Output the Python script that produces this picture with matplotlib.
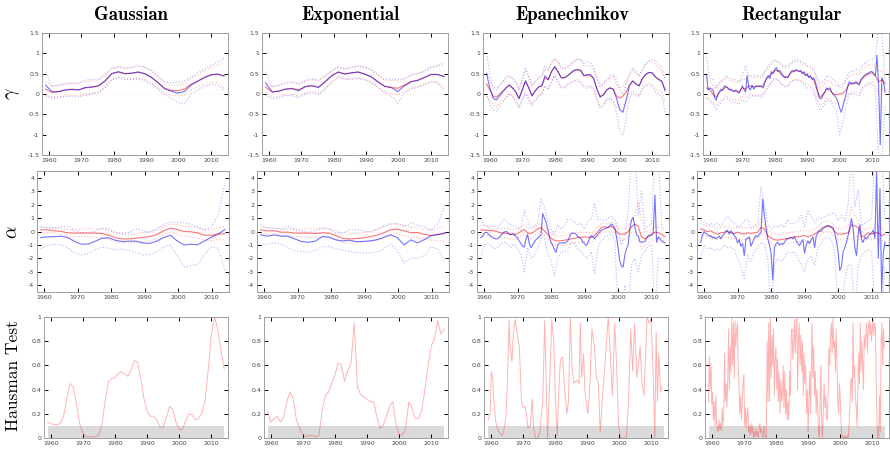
import numpy as np
import matplotlib.pyplot as plt

plt.rcParams['axes.unicode_minus'] = False
plt.rcParams['mathtext.fontset'] = 'cm'

kernels = ['Gaussian', 'Exponential', 'Epanechnikov', 'Rectangular']

# ---------------- gamma, Gaussian kernel (about every two years, 1959-2014)
g_gam_red = [0.12, 0.04, 0.06, 0.10, 0.12, 0.10, 0.15, 0.17, 0.20, 0.32, 0.50, 0.54, 0.50, 0.51,
             0.54, 0.50, 0.41, 0.28, 0.14, 0.09, 0.08, 0.12, 0.24, 0.32, 0.41, 0.47, 0.49, 0.45]
g_gam_blue = [0.22, 0.05, 0.06, 0.10, 0.11, 0.10, 0.16, 0.17, 0.20, 0.32, 0.50, 0.55, 0.50, 0.51,
              0.54, 0.50, 0.41, 0.28, 0.13, 0.07, 0.02, 0.06, 0.22, 0.31, 0.40, 0.47, 0.49, 0.44]
g_gam_red_hi = [0.30, 0.18, 0.20, 0.24, 0.26, 0.25, 0.30, 0.32, 0.34, 0.45, 0.62, 0.66, 0.62, 0.64,
                0.68, 0.65, 0.56, 0.42, 0.28, 0.22, 0.22, 0.26, 0.38, 0.47, 0.57, 0.65, 0.71, 0.78]
g_gam_red_lo = [-0.02, -0.08, -0.07, -0.04, -0.03, -0.05, 0.00, 0.02, 0.05, 0.18, 0.36, 0.42, 0.38, 0.37,
                0.40, 0.36, 0.27, 0.15, 0.02, -0.03, -0.05, -0.02, 0.10, 0.17, 0.24, 0.29, 0.28, 0.14]
g_gam_blue_hi = [0.55, 0.20, 0.22, 0.26, 0.27, 0.28, 0.34, 0.36, 0.37, 0.48, 0.64, 0.67, 0.64, 0.66,
                 0.71, 0.67, 0.58, 0.43, 0.30, 0.28, 0.29, 0.32, 0.42, 0.52, 0.62, 0.70, 0.78, 0.88]
g_gam_blue_lo = [-0.05, -0.10, -0.09, -0.06, -0.06, -0.08, -0.03, 0.00, 0.03, 0.15, 0.34, 0.40, 0.36, 0.35,
                 0.37, 0.33, 0.24, 0.12, -0.02, -0.10, -0.22, -0.25, 0.00, 0.10, 0.18, 0.24, 0.22, 0.08]

# ---------------- gamma, Exponential kernel
e_gam_red = [0.17, 0.05, 0.07, 0.12, 0.14, 0.10, 0.18, 0.21, 0.17, 0.30, 0.45, 0.54, 0.49, 0.52,
             0.54, 0.49, 0.42, 0.30, 0.19, 0.16, 0.14, 0.22, 0.31, 0.34, 0.41, 0.48, 0.48, 0.43]
e_gam_blue = [0.27, 0.05, 0.07, 0.12, 0.13, 0.08, 0.18, 0.20, 0.16, 0.30, 0.45, 0.54, 0.49, 0.52,
              0.54, 0.49, 0.42, 0.30, 0.19, 0.16, 0.06, 0.20, 0.30, 0.33, 0.40, 0.48, 0.48, 0.43]
e_gam_red_hi = [0.30, 0.17, 0.20, 0.26, 0.28, 0.24, 0.31, 0.36, 0.32, 0.43, 0.56, 0.66, 0.61, 0.64,
                0.68, 0.65, 0.58, 0.46, 0.34, 0.33, 0.32, 0.37, 0.46, 0.50, 0.56, 0.65, 0.68, 0.72]
e_gam_red_lo = [0.04, -0.08, -0.06, -0.02, -0.01, -0.06, 0.03, 0.06, 0.02, 0.14, 0.30, 0.42, 0.37, 0.38,
                0.40, 0.36, 0.30, 0.18, 0.06, 0.01, -0.02, 0.06, 0.15, 0.18, 0.25, 0.31, 0.30, 0.15]
e_gam_blue_hi = [0.55, 0.18, 0.22, 0.28, 0.30, 0.25, 0.33, 0.38, 0.34, 0.45, 0.58, 0.67, 0.62, 0.66,
                 0.70, 0.67, 0.60, 0.48, 0.36, 0.37, 0.36, 0.38, 0.48, 0.51, 0.55, 0.66, 0.70, 0.76]
e_gam_blue_lo = [-0.03, -0.12, -0.10, -0.04, -0.04, -0.10, 0.00, 0.03, -0.02, 0.12, 0.28, 0.42, 0.36, 0.36,
                 0.38, 0.34, 0.28, 0.16, 0.03, -0.04, -0.22, 0.02, 0.13, 0.16, 0.22, 0.30, 0.27, 0.10]

# ---------------- gamma, Epanechnikov kernel (annual)
ep_gam_red = [0.25,
              0.10, -0.05, -0.08, 0.00, 0.08, 0.15, 0.22, 0.15, 0.05, -0.10,
              0.10, 0.30, 0.15, -0.03, 0.08, 0.17, 0.20, 0.40, 0.35, 0.55,
              0.66, 0.55, 0.40, 0.40, 0.45, 0.52, 0.58, 0.60, 0.58, 0.45,
              0.45, 0.45, 0.38, 0.12, -0.06, -0.02, 0.10, 0.15, 0.12, -0.05,
              -0.10, -0.05, 0.05, 0.22, 0.32, 0.25, 0.20, 0.38, 0.48, 0.53,
              0.52, 0.42, 0.36, 0.30, 0.10]
ep_gam_blue = [0.50,
               0.15, -0.10, -0.15, -0.05, 0.05, 0.15, 0.22, 0.15, 0.05, -0.12,
               0.10, 0.33, 0.15, -0.05, 0.08, 0.17, 0.20, 0.45, 0.35, 0.55,
               0.68, 0.55, 0.40, 0.40, 0.45, 0.52, 0.58, 0.60, 0.58, 0.45,
               0.48, 0.48, 0.38, 0.12, -0.08, -0.02, 0.10, 0.15, 0.12, -0.10,
               -0.38, -0.45, -0.15, 0.20, 0.32, 0.25, 0.20, 0.38, 0.48, 0.53,
               0.52, 0.42, 0.36, 0.32, 0.08]
ep_gam_red_hi = [0.55,
                 0.35, 0.18, 0.15, 0.22, 0.30, 0.38, 0.42, 0.38, 0.28, 0.12,
                 0.35, 0.58, 0.40, 0.20, 0.30, 0.38, 0.42, 0.62, 0.58, 0.75,
                 0.85, 0.78, 0.62, 0.62, 0.68, 0.75, 0.82, 0.85, 0.82, 0.70,
                 0.70, 0.70, 0.60, 0.38, 0.18, 0.22, 0.32, 0.40, 0.42, 0.22,
                 0.15, 0.20, 0.28, 0.45, 0.58, 0.50, 0.45, 0.60, 0.72, 0.80,
                 0.80, 0.72, 0.65, 0.55, 0.40]
ep_gam_red_lo = [-0.05,
                 -0.15, -0.28, -0.32, -0.22, -0.14, -0.08, 0.02, -0.05, -0.15, -0.32,
                 -0.12, 0.05, -0.10, -0.25, -0.14, -0.04, 0.00, 0.18, 0.12, 0.32,
                 0.45, 0.32, 0.18, 0.18, 0.22, 0.28, 0.34, 0.35, 0.34, 0.20,
                 0.20, 0.20, 0.15, -0.12, -0.30, -0.25, -0.12, -0.10, -0.18, -0.32,
                 -0.35, -0.30, -0.18, 0.00, 0.08, 0.02, -0.05, 0.15, 0.24, 0.26,
                 0.24, 0.12, 0.08, 0.05, -0.20]
ep_gam_blue_hi = [1.00,
                  0.50, 0.15, 0.10, 0.20, 0.30, 0.42, 0.45, 0.40, 0.30, 0.10,
                  0.40, 0.65, 0.45, 0.22, 0.30, 0.40, 0.45, 0.70, 0.60, 0.78,
                  0.88, 0.80, 0.65, 0.62, 0.65, 0.72, 0.80, 0.85, 0.85, 0.75,
                  0.80, 0.78, 0.65, 0.40, 0.20, 0.25, 0.35, 0.45, 0.48, 0.35,
                  0.10, 0.00, 0.25, 0.50, 0.65, 0.55, 0.45, 0.60, 0.75, 0.82,
                  0.85, 0.82, 0.75, 0.65, 0.35]
ep_gam_blue_lo = [0.00,
                  -0.25, -0.40, -0.42, -0.30, -0.20, -0.10, 0.00, -0.05, -0.18, -0.35,
                  -0.15, 0.00, -0.15, -0.30, -0.15, -0.05, 0.00, 0.20, 0.10, 0.30,
                  0.45, 0.30, 0.15, 0.15, 0.22, 0.28, 0.32, 0.32, 0.28, 0.15,
                  0.15, 0.18, 0.10, -0.15, -0.35, -0.30, -0.15, -0.12, -0.20, -0.45,
                  -0.90, -1.02, -0.60, -0.10, 0.02, -0.05, -0.05, 0.12, 0.20, 0.22,
                  0.20, 0.05, 0.00, -0.05, -0.45]

# ---------------- gamma, Rectangular kernel (blue half-yearly, the rest annual)
r_gam_red = [0.15,
             0.10, 0.00, -0.08, 0.05, 0.10, 0.18, 0.12, 0.08, 0.08, 0.05,
             0.15, 0.12, 0.20, 0.18, 0.18, 0.20, 0.18, 0.30, 0.42, 0.50,
             0.58, 0.58, 0.48, 0.42, 0.42, 0.52, 0.57, 0.57, 0.55, 0.50,
             0.45, 0.42, 0.35, 0.10, -0.08, 0.00, 0.12, 0.10, 0.00, -0.02,
             0.00, 0.02, 0.10, 0.25, 0.25, 0.28, 0.25, 0.38, 0.45, 0.50,
             0.52, 0.45, 0.30, 0.35, 0.25]
r_gam_blue = [0.45, 0.10, 0.15, 0.12, 0.10, -0.10, -0.15, 0.00, 0.05, 0.12,
              0.10, 0.20, 0.18, 0.15, 0.10, 0.12, 0.08, 0.05, 0.10, 0.05,
              0.02, 0.10, 0.20, 0.12, 0.05, 0.45, 0.15, 0.10, 0.22, 0.12,
              0.18, 0.20, 0.18, 0.20, 0.18, 0.15, 0.30, 0.40, 0.45, 0.38,
              0.55, 0.50, 0.60, 0.65, 0.55, 0.58, 0.52, 0.45, 0.40, 0.42,
              0.40, 0.48, 0.55, 0.58, 0.55, 0.60, 0.58, 0.55, 0.58, 0.50,
              0.55, 0.45, 0.50, 0.40, 0.45, 0.35, 0.40, 0.30, 0.15, -0.05,
              -0.12, -0.10, 0.00, 0.05, 0.15, 0.12, 0.15, 0.05, 0.00, -0.05,
              -0.10, -0.20, -0.35, -0.45, -0.30, -0.15, 0.00, 0.20, 0.30, 0.25,
              0.28, 0.25, 0.30, 0.25, 0.22, 0.35, 0.40, 0.45, 0.48, 0.50,
              0.52, 0.55, 0.55, 0.50, 0.45, 0.95, 0.20, -1.25, 0.40, 0.30,
              0.05]
r_gam_red_hi = [0.40,
                0.32, 0.22, 0.14, 0.27, 0.32, 0.40, 0.34, 0.30, 0.30, 0.27,
                0.37, 0.36, 0.42, 0.40, 0.40, 0.42, 0.40, 0.52, 0.64, 0.72,
                0.80, 0.80, 0.70, 0.64, 0.64, 0.74, 0.79, 0.80, 0.77, 0.72,
                0.67, 0.64, 0.57, 0.32, 0.14, 0.22, 0.34, 0.32, 0.22, 0.20,
                0.22, 0.24, 0.32, 0.47, 0.47, 0.50, 0.47, 0.60, 0.67, 0.72,
                0.74, 0.67, 0.55, 0.57, 0.47]
r_gam_red_lo = [-0.08,
                -0.12, -0.22, -0.30, -0.17, -0.12, -0.04, -0.10, -0.14, -0.14, -0.17,
                -0.07, -0.10, -0.02, -0.04, -0.04, -0.02, -0.04, 0.08, 0.20, 0.28,
                0.36, 0.36, 0.26, 0.20, 0.20, 0.30, 0.35, 0.35, 0.33, 0.28,
                0.23, 0.20, 0.13, -0.12, -0.30, -0.22, -0.10, -0.12, -0.22, -0.24,
                -0.22, -0.20, -0.12, 0.03, 0.03, 0.06, 0.03, 0.16, 0.23, 0.28,
                0.30, 0.23, 0.05, 0.13, 0.03]
r_gam_blue_hi = [0.90,
                 0.40, 0.35, 0.15, 0.30, 0.35, 0.45, 0.40, 0.35, 0.35, 0.30,
                 0.45, 0.70, 0.45, 0.45, 0.45, 0.45, 0.45, 0.58, 0.70, 0.78,
                 0.85, 0.80, 0.72, 0.68, 0.70, 0.78, 0.82, 0.85, 0.80, 0.78,
                 0.70, 0.68, 0.60, 0.40, 0.25, 0.30, 0.45, 0.42, 0.35, 0.30,
                 0.15, 0.20, 0.40, 0.55, 0.55, 0.60, 0.58, 0.70, 0.78, 0.82,
                 0.85, 0.90, 1.60, 1.60, 0.30]
r_gam_blue_lo = [-0.10,
                 -0.20, -0.25, -0.40, -0.25, -0.15, -0.10, -0.15, -0.20, -0.20, -0.25,
                 -0.15, -0.20, -0.10, -0.05, -0.05, -0.05, -0.10, 0.05, 0.15, 0.30,
                 0.40, 0.35, 0.25, 0.18, 0.18, 0.30, 0.35, 0.35, 0.30, 0.25,
                 0.15, 0.15, 0.05, -0.25, -0.40, -0.30, -0.15, -0.15, -0.30, -0.40,
                 -1.00, -0.70, -0.30, 0.00, 0.00, 0.00, -0.05, 0.10, 0.20, 0.25,
                 0.25, 0.10, -1.60, -1.60, -0.30]

# ---------------- alpha, Gaussian kernel (about every two years)
g_alp_red = [0.12, 0.12, 0.05, 0.00, -0.10, -0.12, -0.12, -0.12, -0.12, -0.15, -0.28, -0.48, -0.55, -0.55,
             -0.50, -0.44, -0.38, -0.22, 0.05, 0.25, 0.15, 0.00, -0.02, -0.10, -0.28, -0.28, -0.18, -0.18]
g_alp_blue = [-0.45, -0.40, -0.38, -0.35, -0.45, -0.75, -0.95, -0.93, -0.72, -0.50, -0.48, -0.66, -0.75, -0.72,
              -0.72, -0.86, -0.88, -0.72, -0.45, -0.28, -0.70, -1.00, -0.95, -0.98, -0.70, -0.42, -0.20, 0.15]
g_alp_red_hi = [0.35, 0.30, 0.25, 0.20, 0.15, 0.12, 0.15, 0.18, 0.20, 0.18, 0.08, -0.08, -0.20, -0.25,
                -0.20, -0.10, -0.04, 0.12, 0.35, 0.55, 0.50, 0.35, 0.35, 0.30, 0.12, 0.12, 0.28, 0.35]
g_alp_red_lo = [-0.10, -0.08, -0.15, -0.22, -0.32, -0.35, -0.38, -0.40, -0.42, -0.45, -0.58, -0.78, -0.85, -0.85,
                -0.80, -0.76, -0.70, -0.55, -0.25, -0.05, -0.20, -0.35, -0.40, -0.48, -0.65, -0.68, -0.60, -0.65]
g_alp_blue_hi = [0.35, 0.25, 0.25, 0.35, 0.40, 0.05, -0.10, -0.05, 0.00, 0.25, 0.20, -0.10, -0.15, -0.05,
                 0.20, 0.05, -0.05, 0.20, 0.50, 0.70, 0.65, 0.65, 0.55, 0.30, 0.10, 0.35, 1.20, 3.60]
g_alp_blue_lo = [-1.30, -1.05, -0.95, -1.00, -1.20, -1.60, -1.75, -1.65, -1.35, -1.15, -1.25, -1.35, -1.30, -1.40,
                 -1.55, -1.75, -1.72, -1.50, -1.15, -1.00, -1.80, -2.65, -2.55, -2.45, -1.70, -1.15, -1.25, -2.90]

# ---------------- alpha, Exponential kernel
e_alp_red = [0.12, 0.05, 0.05, -0.05, -0.05, -0.12, -0.12, -0.12, -0.15, -0.10, -0.12, -0.30, -0.52, -0.55,
             -0.52, -0.48, -0.38, -0.28, -0.10, 0.12, 0.18, 0.05, -0.08, -0.08, -0.22, -0.30, -0.22, -0.15]
e_alp_blue = [-0.25, -0.35, -0.25, -0.35, -0.35, -0.55, -0.75, -0.80, -0.72, -0.38, -0.42, -0.62, -0.70, -0.65,
              -0.75, -0.74, -0.70, -0.62, -0.45, -0.25, -0.45, -1.00, -0.62, -0.85, -0.60, -0.30, -0.22, -0.10]
e_alp_red_hi = [0.35, 0.28, 0.25, 0.20, 0.18, 0.18, 0.15, 0.18, 0.20, 0.25, 0.18, 0.02, -0.18, -0.20,
                -0.15, -0.08, 0.02, 0.12, 0.35, 0.52, 0.55, 0.45, 0.32, 0.28, 0.12, 0.10, 0.25, 0.35]
e_alp_red_lo = [-0.12, -0.20, -0.18, -0.28, -0.30, -0.38, -0.40, -0.42, -0.45, -0.40, -0.42, -0.60, -0.82, -0.85,
                -0.85, -0.78, -0.70, -0.60, -0.40, -0.22, -0.15, -0.30, -0.45, -0.42, -0.55, -0.65, -0.68, -0.75]
e_alp_blue_hi = [0.55, 0.25, 0.25, 0.15, 0.40, 0.10, 0.00, -0.05, 0.05, 0.25, 0.22, -0.10, -0.12, 0.10,
                 0.15, 0.05, -0.02, 0.15, 0.40, 0.60, 0.60, 0.35, 0.65, 0.45, 0.35, 0.10, 0.60, 2.00]
e_alp_blue_lo = [-1.05, -0.90, -0.85, -0.95, -1.20, -1.45, -1.50, -1.55, -1.40, -1.15, -1.10, -1.28, -1.35, -1.45,
                 -1.58, -1.60, -1.58, -1.52, -1.30, -0.95, -1.40, -2.35, -2.00, -1.95, -1.80, -1.15, -1.30, -2.25]

# ---------------- alpha, Epanechnikov kernel (blue half-yearly, the rest annual)
ep_alp_red = [0.12,
              0.10, 0.08, 0.06, 0.05, -0.02, -0.10, -0.12, -0.15, -0.20, -0.25,
              -0.15, 0.00, 0.15, -0.10, -0.15, 0.00, 0.20, 0.30, 0.05, -0.20,
              -0.50, -0.65, -0.70, -0.68, -0.65, -0.60, -0.55, -0.50, -0.45, -0.42,
              -0.40, -0.42, -0.45, -0.30, 0.00, 0.30, 0.35, 0.30, 0.40, 0.20,
              -0.15, -0.20, -0.20, 0.00, 0.35, 0.55, 0.40, -0.40, -0.55, -0.40,
              -0.25, -0.05, -0.10, -0.20, -0.40]
ep_alp_blue = [-0.45, -0.40, -0.15, -0.05, -0.10, -0.25, -0.35, -0.45, -0.50, -0.55,
               -0.55, -0.45, -0.30, -0.12, -0.05, 0.00, -0.05, -0.20, -0.25, -0.15,
               -0.20, -0.35, -0.50, -0.70, -0.90, -1.10, -1.15, -0.60, -0.20, -0.90,
               -1.20, -1.00, -0.80, -0.60, -0.50, -0.35, -0.25, 1.35, 1.00, 0.70,
               0.20, -0.40, -0.80, -1.05, -1.35, -1.55, -1.00, -0.85, -0.85, -0.85,
               -0.85, -0.80, -0.70, -0.40, -0.15, -0.10, -0.15, -0.20, -0.40, -0.45,
               -0.55, -0.80, -0.90, -1.05, -0.85, -0.50, -0.30, -0.40, -0.55, -0.35,
               -0.20, -0.05, 0.10, 0.15, 0.20, 0.25, 0.30, 0.40, 0.55, 0.45,
               0.25, -0.35, -1.20, -2.20, -2.55, -2.65, -1.80, -1.30, -1.00, 0.20,
               0.85, 1.05, 0.40, -0.25, -0.30, -0.75, -0.80, -0.78, -0.75, -0.50,
               -0.30, -0.28, -0.25, -0.10, 2.70, -0.80, -0.40, -0.55, -0.70, -0.80,
               -0.85]
ep_alp_red_hi = [0.45,
                 0.45, 0.40, 0.40, 0.38, 0.30, 0.25, 0.22, 0.20, 0.15, 0.10,
                 0.20, 0.35, 0.45, 0.25, 0.20, 0.30, 0.50, 0.60, 0.40, 0.15,
                 -0.15, -0.30, -0.35, -0.33, -0.30, -0.25, -0.20, -0.12, -0.08, -0.05,
                 -0.05, -0.08, -0.10, 0.05, 0.35, 0.60, 0.65, 0.60, 0.70, 0.55,
                 0.25, 0.20, 0.20, 0.40, 0.75, 1.20, 2.20, 0.80, 0.00, 0.00,
                 0.15, 0.35, 0.30, 0.20, 0.05]
ep_alp_red_lo = [-0.25,
                 -0.25, -0.30, -0.30, -0.32, -0.40, -0.45, -0.50, -0.50, -0.55, -0.60,
                 -0.50, -0.35, -0.20, -0.45, -0.50, -0.35, -0.15, 0.00, -0.30, -0.55,
                 -0.85, -1.00, -1.05, -1.03, -1.00, -0.95, -0.90, -0.82, -0.78, -0.75,
                 -0.75, -0.80, -0.85, -0.65, -0.35, -0.05, 0.00, -0.05, 0.05, -0.15,
                 -0.55, -0.60, -0.60, -0.40, -0.10, -0.30, -0.50, -1.30, -1.00, -0.90,
                 -0.75, -0.60, -0.45, -0.50, -0.85]
ep_alp_blue_hi = [0.90,
                  0.50, 0.40, 0.20, 0.10, 0.20, 0.60, 0.90, 0.70, 0.50, 0.40,
                  0.30, 0.10, 1.60, 0.80, 0.30, 0.40, 0.60, 2.40, 1.80, 0.80,
                  0.20, -0.20, 0.50, 0.20, 0.40, 0.90, 0.90, 0.70, 0.50, 0.60,
                  0.20, 0.80, 0.90, 2.10, 0.90, 0.90, 0.80, 1.00, 1.10, 0.90,
                  0.20, -1.00, -0.30, 1.50, 6.00, 6.00, 1.20, 3.00, 0.20, 0.40,
                  0.50, 6.00, 6.00, 0.40, 0.20]
ep_alp_blue_lo = [-2.00,
                  -1.00, -0.90, -1.10, -1.30, -1.20, -0.90, -0.80, -0.90, -1.20, -0.90,
                  -1.30, -1.70, -3.00, -1.20, -2.00, -1.80, -1.30, -0.40, -0.50, -1.60,
                  -2.20, -3.30, -2.00, -1.50, -1.50, -1.40, -0.80, -0.90, -1.30, -1.50,
                  -1.80, -2.00, -1.50, -3.10, -1.20, -0.70, -0.40, -0.30, -0.20, -0.60,
                  -6.00, -6.00, -4.00, -6.00, -2.50, -2.00, -3.00, -1.80, -1.50, -1.10,
                  -1.00, -6.00, -2.00, -2.00, -2.10]

# ---------------- alpha, Rectangular kernel (blue half-yearly, the rest annual)
r_alp_red = [0.20,
             0.10, 0.00, 0.05, -0.10, -0.20, -0.10, -0.05, 0.00, -0.10, -0.15,
             -0.05, -0.15, -0.20, -0.10, -0.15, -0.10, -0.05, 0.30, 0.20, -0.30,
             -0.50, -0.60, -0.65, -0.60, -0.55, -0.50, -0.45, -0.40, -0.40, -0.35,
             -0.30, -0.40, -0.30, -0.20, 0.00, 0.20, 0.35, 0.40, 0.30, 0.00,
             -0.20, -0.20, -0.15, -0.10, 0.50, 0.40, 0.30, -0.40, -0.30, -0.10,
             -0.20, -0.10, -0.10, -0.30, -0.20]
r_alp_blue = [-0.80, -0.30, 0.00, -0.15, -0.20, -0.35, -0.30, -0.50, -0.40, -0.55,
              -0.45, -0.35, -0.55, -0.30, -0.20, 0.00, 0.10, -0.20, 0.05, -0.10,
              -0.30, -0.45, -0.85, -0.60, -1.10, -0.90, -1.80, -0.60, -0.50, -0.40,
              -1.10, -0.80, -0.50, -0.30, -0.40, -0.20, -0.10, 2.40, 1.20, 0.30,
              -0.50, -1.00, -1.60, -3.60, -1.20, -0.90, -0.80, -1.00, -0.90, -0.95,
              -0.80, -0.60, -0.55, -0.50, -0.45, -0.55, -0.40, -0.70, -0.90, -1.05,
              -0.80, -0.60, -1.60, -1.00, -0.70, -0.90, -0.60, -0.40, -1.20, -0.30,
              -0.10, 0.05, 0.00, 0.25, 0.30, 0.40, 0.45, 0.40, 0.35, 0.30,
              -0.10, -0.70, -1.50, -2.90, -2.60, -1.50, -1.20, -0.80, -0.30, 0.30,
              0.95, 0.20, -1.20, -1.80, -0.20, 0.50, -0.60, -0.80, -0.40, -0.55,
              -0.35, -0.20, -0.10, 0.10, -0.50, 4.50, -2.00, 3.20, -4.50, -1.60,
              -0.80]
r_alp_red_hi = [0.60,
                0.50, 0.40, 0.45, 0.30, 0.20, 0.30, 0.35, 0.45, 0.30, 0.25,
                0.35, 0.30, 0.25, 0.30, 0.25, 0.30, 0.40, 0.90, 0.60, 0.10,
                -0.10, -0.20, -0.25, -0.20, -0.15, -0.10, -0.05, 0.00, 0.00, 0.05,
                0.10, 0.00, 0.10, 0.20, 0.40, 0.60, 0.75, 0.80, 0.70, 0.40,
                0.20, 0.20, 0.30, 0.40, 1.80, 1.20, 0.80, 0.00, 0.10, 0.30,
                0.20, 0.30, 0.40, 0.20, 0.20]
r_alp_red_lo = [-0.20,
                -0.30, -0.40, -0.35, -0.50, -0.60, -0.50, -0.45, -0.40, -0.50, -0.55,
                -0.45, -0.60, -0.65, -0.50, -0.55, -0.50, -0.45, -0.30, -0.20, -0.70,
                -0.90, -1.00, -1.05, -1.00, -0.95, -0.90, -0.85, -0.80, -0.80, -0.75,
                -0.70, -0.80, -0.70, -0.60, -0.40, -0.20, -0.05, 0.00, -0.10, -0.40,
                -0.60, -0.60, -0.55, -0.50, -0.60, -0.40, -0.30, -0.80, -0.70, -0.50,
                -0.60, -0.50, -0.60, -0.70, -0.60]
r_alp_blue_hi = [0.80,
                 0.70, 0.50, 0.60, 0.50, 0.60, 0.40, 0.80, 1.10, 0.80, 0.60,
                 0.30, 0.40, 0.80, 0.90, 0.30, 0.40, 0.60, 3.30, 2.00, 0.60,
                 0.20, 0.40, 0.30, 0.50, 0.30, 0.90, 0.60, 0.60, 0.80, 1.20,
                 0.30, 1.60, 1.10, 0.70, 1.00, 1.00, 1.10, 1.20, 1.30, 1.40,
                 0.80, 1.20, 0.80, 2.00, 6.00, 1.80, 3.10, 0.40, 0.60, 0.80,
                 0.90, 6.00, 6.00, 6.00, 1.00]
r_alp_blue_lo = [-2.00,
                 -1.00, -1.30, -1.20, -1.40, -1.30, -1.40, -1.00, -1.20, -1.20, -1.30,
                 -2.00, -2.50, -3.50, -1.80, -2.20, -1.50, -1.20, -0.80, -0.90, -2.00,
                 -6.00, -2.50, -2.00, -2.20, -2.00, -1.50, -1.60, -1.50, -2.00, -2.50,
                 -3.00, -2.00, -1.80, -2.50, -1.20, -0.80, -0.50, -0.40, -0.60, -1.50,
                 -6.00, -6.00, -3.50, -2.50, -2.50, -6.00, -2.50, -1.80, -1.50, -1.30,
                 -1.50, -6.00, -6.00, -6.00, -2.50]

# ---------------- Hausman test p-values
haus_gauss = [0.13,
              0.12, 0.11, 0.11, 0.12, 0.18, 0.33, 0.45, 0.42, 0.28, 0.12,
              0.04, 0.01, 0.01, 0.01, 0.01, 0.03, 0.12, 0.32, 0.47, 0.49,
              0.50, 0.53, 0.55, 0.53, 0.51, 0.56, 0.64, 0.63, 0.50, 0.33,
              0.22, 0.18, 0.18, 0.15, 0.09, 0.09, 0.17, 0.26, 0.24, 0.13,
              0.07, 0.07, 0.14, 0.20, 0.19, 0.15, 0.16, 0.20, 0.30, 0.55,
              0.85, 1.00, 0.90, 0.72, 0.57]
haus_exp = [0.22,
            0.13, 0.16, 0.18, 0.13, 0.17, 0.30, 0.38, 0.33, 0.15, 0.08,
            0.03, 0.01, 0.02, 0.02, 0.01, 0.02, 0.22, 0.35, 0.38, 0.45,
            0.52, 0.62, 0.60, 0.47, 0.56, 0.62, 0.95, 0.42, 0.36, 0.34,
            0.32, 0.30, 0.30, 0.18, 0.08, 0.10, 0.18, 0.26, 0.30, 0.12,
            0.02, 0.03, 0.07, 0.30, 0.25, 0.16, 0.16, 0.22, 0.40, 0.60,
            0.76, 0.82, 0.97, 0.86, 0.90]
haus_epan_t = [1959.2, 1959.8, 1960.2, 1960.6, 1961.0, 1961.5, 1962.0, 1962.8, 1963.5, 1964.0,
               1964.8, 1965.3, 1965.7, 1966.0, 1966.6, 1967.0, 1967.6, 1968.0, 1968.9, 1969.6,
               1970.1, 1970.7, 1971.1, 1971.6, 1972.3, 1972.9, 1973.3, 1973.9, 1974.6, 1975.3,
               1976.2, 1976.8, 1977.2, 1977.7, 1978.4, 1979.0, 1979.6, 1980.2, 1980.7, 1981.2,
               1981.7, 1982.4, 1983.0, 1983.7, 1984.2, 1984.8, 1985.3, 1985.9, 1986.8, 1987.5,
               1987.9, 1988.3, 1988.9, 1989.3, 1989.9, 1990.3, 1990.9, 1991.5, 1992.3, 1992.9,
               1993.5, 1994.1, 1994.7, 1995.4, 1996.2, 1996.6, 1997.2, 1997.9, 1998.6, 1999.2,
               1999.8, 2000.4, 2001.4, 2002.2, 2002.9, 2003.6, 2004.2, 2004.8, 2005.5, 2006.0,
               2006.5, 2007.1, 2007.7, 2008.1, 2008.7, 2009.3, 2009.9, 2010.5, 2011.1, 2011.5,
               2011.9, 2012.3, 2012.9, 2013.3]
haus_epan = [0.15, 0.20, 0.55, 0.50, 0.30, 0.15, 0.08, 0.04, 0.02, 0.05,
             0.20, 0.55, 0.98, 0.75, 0.63, 0.85, 0.98, 0.90, 0.75, 0.30,
             0.25, 0.26, 0.20, 0.08, 0.10, 0.32, 0.10, 0.00, 0.00, 0.05,
             0.30, 0.97, 0.50, 0.00, 0.50, 0.98, 0.80, 0.30, 0.02, 0.40,
             0.65, 0.67, 0.40, 0.20, 0.30, 1.00, 0.60, 0.45, 0.48, 0.45,
             0.95, 0.50, 0.70, 0.40, 0.25, 0.20, 0.45, 0.90, 0.75, 0.50,
             0.45, 0.05, 0.30, 0.55, 0.85, 1.00, 0.70, 0.35, 0.95, 0.60,
             0.10, 0.00, 0.00, 0.00, 0.30, 0.90, 0.55, 0.95, 0.50, 0.60,
             0.76, 0.45, 0.35, 0.60, 1.00, 0.95, 0.98, 0.60, 0.00, 0.88,
             0.30, 0.70, 0.38, 0.42]
# quarterly, 1959.00 - 2013.75
haus_rect = [0.30, 0.68, 0.40, 0.62, 0.28, 0.38, 0.15, 0.30,
             0.10, 0.35, 0.12, 0.08, 0.05, 0.15, 0.07, 0.12,
             0.06, 0.25, 0.10, 0.20, 0.70, 0.30, 0.45, 0.25,
             0.50, 0.90, 0.40, 0.75, 0.55, 1.00, 0.60, 0.95,
             0.50, 0.97, 0.75, 0.90, 0.95, 0.60, 0.40, 0.20,
             0.35, 0.15, 0.30, 0.45, 0.52, 0.10, 0.25, 0.08,
             0.20, 0.25, 0.05, 0.10, 0.02, 0.12, 0.04, 0.10,
             0.00, 0.05, 0.01, 0.08, 0.02, 0.05, 0.00, 0.10,
             0.12, 0.04, 0.08, 0.02, 0.00, 0.10, 0.05, 0.00,
             0.00, 0.80, 0.30, 0.95, 0.30, 1.00, 0.50, 0.85,
             0.60, 0.90, 0.35, 0.65, 0.75, 0.40, 0.65, 0.30,
             0.55, 0.20, 0.48, 0.30, 0.35, 0.60, 0.25, 0.55,
             0.20, 0.40, 0.15, 0.30, 0.15, 0.55, 0.35, 0.85,
             0.90, 0.65, 0.75, 0.98, 0.70, 0.90, 1.00, 0.40,
             0.80, 0.95, 0.60, 0.85, 0.55, 0.80, 0.35, 0.70,
             0.45, 0.60, 0.20, 0.40, 0.05, 0.30, 0.55, 0.20,
             0.60, 0.95, 0.50, 0.75, 0.35, 0.55, 0.20, 0.40,
             0.25, 0.05, 0.00, 0.30, 0.60, 0.10, 0.00, 0.25,
             0.45, 0.25, 0.35, 0.15, 0.15, 0.40, 0.75, 0.60,
             0.85, 0.95, 0.70, 1.00, 0.75, 0.80, 0.55, 0.90,
             0.60, 0.30, 0.20, 0.45, 0.35, 0.15, 0.02, 0.00,
             0.00, 0.02, 0.00, 0.01, 0.00, 0.02, 0.00, 0.10,
             0.25, 0.45, 0.50, 0.30, 0.95, 0.50, 0.60, 0.35,
             0.25, 0.10, 0.40, 0.70, 0.45, 0.95, 0.55, 0.80,
             0.60, 0.40, 0.85, 0.75, 0.85, 0.95, 0.70, 0.90,
             0.98, 0.85, 0.95, 0.80, 0.90, 0.98, 0.85, 0.95,
             0.90, 0.40, 0.10, 0.00, 0.00, 0.35, 0.05, 0.80,
             0.95, 0.60, 0.90, 0.75]
sig_level = 0.1
sig_span = [1959.2, 2014.0]


def yrs(v, start=1959.0, end=2014.0):
    return np.linspace(start, end, len(v))


def draw_estimates(ax, red, blue, red_lo, red_hi, blue_lo, blue_hi):
    ax.axhline(0, color='red', alpha=0.12, lw=0.6, ls=':')
    for v in (red_lo, red_hi):
        ax.plot(yrs(v), v, ls=':', color='red', alpha=0.3, lw=0.8)
    for v in (blue_lo, blue_hi):
        ax.plot(yrs(v), v, ls=':', color='blue', alpha=0.3, lw=0.8)
    ax.plot(yrs(red), red, color='red', alpha=0.55, lw=0.8)
    ax.plot(yrs(blue), blue, color='blue', alpha=0.55, lw=0.8)


def style(ax, ticks, labels, lim):
    ax.set_xlim(1957.9, 2015.2)
    ax.set_ylim(*lim)
    ax.set_xticks(range(1960, 2011, 10))
    ax.set_yticks(ticks)
    ax.set_yticklabels(labels)
    ax.tick_params(direction='in', length=3, width=0.7, top=True, right=True,
                   labelsize=4.5, labelcolor='#444444', pad=2)
    for s in ax.spines.values():
        s.set_color('#a0a0a0')
        s.set_linewidth(0.7)


W, H = 890, 449
fig = plt.figure(figsize=(W / 100, H / 100), dpi=100)

# pixel boxes for each row: top, bottom, column lefts, width
rows = [(33, 155, [42, 262, 483, 703], 186),
        (171, 292, [37, 257, 477, 697], 192),
        (317, 438, [44, 264, 484, 705], 184)]
axes = []
for top, bot, lefts, w in rows:
    axes.append([fig.add_axes([l / W, 1 - bot / H, w / W, (bot - top) / H]) for l in lefts])

gamma_sets = [
    (g_gam_red, g_gam_blue, g_gam_red_lo, g_gam_red_hi, g_gam_blue_lo, g_gam_blue_hi),
    (e_gam_red, e_gam_blue, e_gam_red_lo, e_gam_red_hi, e_gam_blue_lo, e_gam_blue_hi),
    (ep_gam_red, ep_gam_blue, ep_gam_red_lo, ep_gam_red_hi, ep_gam_blue_lo, ep_gam_blue_hi),
    (r_gam_red, r_gam_blue, r_gam_red_lo, r_gam_red_hi, r_gam_blue_lo, r_gam_blue_hi),
]
alpha_sets = [
    (g_alp_red, g_alp_blue, g_alp_red_lo, g_alp_red_hi, g_alp_blue_lo, g_alp_blue_hi),
    (e_alp_red, e_alp_blue, e_alp_red_lo, e_alp_red_hi, e_alp_blue_lo, e_alp_blue_hi),
    (ep_alp_red, ep_alp_blue, ep_alp_red_lo, ep_alp_red_hi, ep_alp_blue_lo, ep_alp_blue_hi),
    (r_alp_red, r_alp_blue, r_alp_red_lo, r_alp_red_hi, r_alp_blue_lo, r_alp_blue_hi),
]
haus_sets = [
    (yrs(haus_gauss), haus_gauss),
    (yrs(haus_exp), haus_exp),
    (haus_epan_t, haus_epan),
    (yrs(haus_rect, 1959.0, 2013.75), haus_rect),
]

for j in range(4):
    ax = axes[0][j]
    draw_estimates(ax, *gamma_sets[j])
    style(ax, [-1.5, -1, -0.5, 0, 0.5, 1, 1.5],
          ['-1.5', '-1', '-0.5', '0', '0.5', '1', '1.5'], (-1.5, 1.5))

    ax = axes[1][j]
    draw_estimates(ax, *alpha_sets[j])
    style(ax, range(-4, 5), [str(v) for v in range(-4, 5)], (-4.5, 4.5))

    ax = axes[2][j]
    ax.fill_between(sig_span, 0, sig_level, color='#dadada', lw=0)
    t, p = haus_sets[j]
    ax.plot(t, p, color='red', alpha=0.3, lw=0.7)
    style(ax, [0, 0.2, 0.4, 0.6, 0.8, 1], ['0', '0.2', '0.4', '0.6', '0.8', '1'], (0, 1))

    top, bot, lefts, w = rows[0]
    fig.text((lefts[j] + w / 2 - 4) / W, 1 - 15 / H, kernels[j], fontname='cmb10',
             fontsize=13.5, ha='center', va='center')

fig.text(12 / W, 1 - 94 / H, r'$\gamma$', fontsize=14, rotation=90, ha='center', va='center')
fig.text(12 / W, 1 - 232 / H, r'$\alpha$', fontsize=14, rotation=90, ha='center', va='center')
fig.text(13 / W, 1 - 376 / H, 'Hausman Test', fontname='cmr10', fontsize=12.5,
         rotation=90, ha='center', va='center')

fig.savefig('out.png', dpi=100)
